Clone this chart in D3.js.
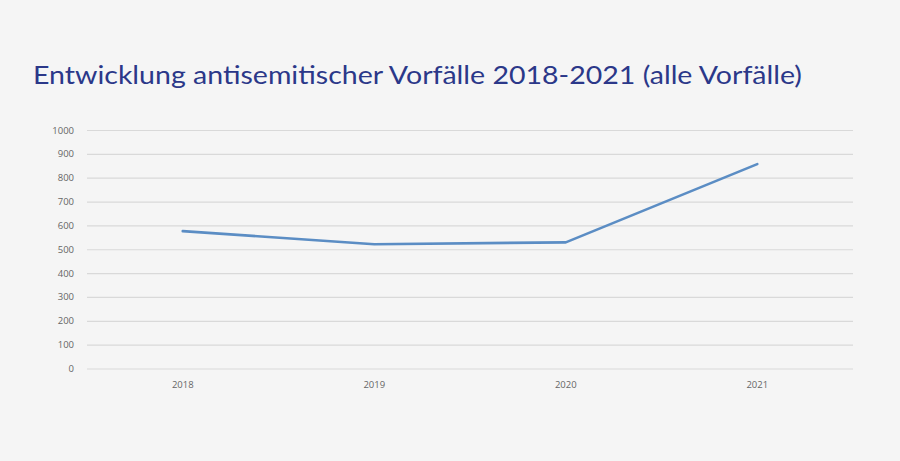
<!DOCTYPE html>
<html><head><meta charset="utf-8">
<script src="https://cdn.jsdelivr.net/npm/d3@7"></script>
<style>html,body{margin:0;padding:0;background:#f5f5f5;}</style>
</head><body>
<svg id="chart" width="900" height="461"></svg>
<script>
const title = "Entwicklung antisemitischer Vorfälle 2018-2021 (alle Vorfälle)";
const years = ["2018", "2019", "2020", "2021"];
const incidents = [576, 521, 529, 857];
const yTicks = [0, 100, 200, 300, 400, 500, 600, 700, 800, 900, 1000];

(function () {
const svg = d3.select("#chart");
svg.append("rect").attr("width", 900).attr("height", 461).attr("fill", "#f5f5f5");

const mLeft = 87, mRight = 853, mTop = 130, mBottom = 368.5;
const x = d3.scaleBand().domain(years).range([mLeft, mRight]);
const y = d3.scaleLinear().domain([0, 1000]).range([mBottom, mTop]);

svg.append("text").attr("x", 33).attr("y", 84)
  .attr("font-family", "Lato, 'Open Sans', sans-serif").attr("font-size", 24.5)
  .attr("textLength", 769).attr("lengthAdjust", "spacingAndGlyphs")
  .attr("fill", "#2b3889").text(title);

const yAxis = svg.append("g").attr("transform", `translate(${mLeft},0)`)
  .call(d3.axisLeft(y).tickValues(yTicks).tickFormat(d3.format("d")).tickSize(-(mRight - mLeft)).tickPadding(13));
yAxis.select(".domain").remove();
yAxis.selectAll(".tick line").attr("stroke", "#d9d9d9").attr("stroke-width", 1.2);
yAxis.selectAll(".tick text").attr("fill", "#666").attr("font-size", 9.5)
  .attr("font-family", "'Open Sans', sans-serif");

const xAxis = svg.append("g").attr("transform", `translate(0,${mBottom})`)
  .call(d3.axisBottom(x).tickSize(0).tickPadding(13));
xAxis.select(".domain").remove();
xAxis.selectAll(".tick text").attr("fill", "#666").attr("font-size", 9.5)
  .attr("font-family", "'Open Sans', sans-serif");

const line = d3.line().x((d, i) => x(years[i]) + x.bandwidth() / 2).y(d => y(d));
svg.append("path").datum(incidents).attr("d", line)
  .attr("fill", "none").attr("stroke", "#5b8dc4").attr("stroke-width", 2.6)
  .attr("stroke-linejoin", "round").attr("stroke-linecap", "round");
})();
</script>
</body></html>
